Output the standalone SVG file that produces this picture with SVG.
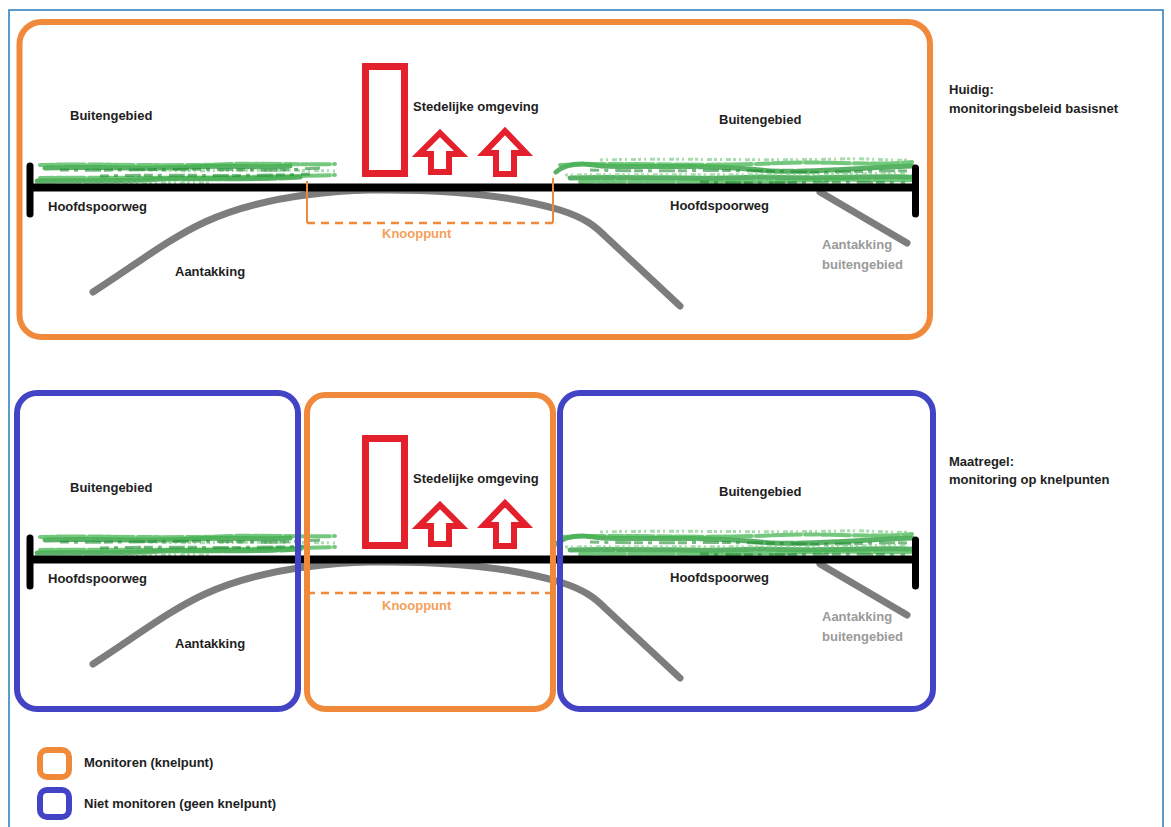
<svg xmlns="http://www.w3.org/2000/svg" width="1171" height="827" viewBox="0 0 1171 827">
<style>
text{font-family:"Liberation Sans",Arial,sans-serif;font-weight:bold;font-size:13px;fill:#1e1e1e}
.knoop{fill:#F4A05A}
.grey{fill:#9a9a9a}
.track{stroke:#000;stroke-width:8;fill:none}
.bar{stroke:#000;stroke-width:7;stroke-linecap:round}
.branch{stroke:#7d7d7d;stroke-width:7;fill:none;stroke-linecap:round;stroke-linejoin:round}
.red{stroke:#E3202B;stroke-width:7;fill:#fff}
.arrow{stroke:#E3202B;stroke-width:6;fill:#fff;stroke-linejoin:miter}
.dash{stroke:#F0893A;stroke-width:2.5;fill:none;stroke-dasharray:8 6}
.tick{stroke:#F0893A;stroke-width:2;fill:none}
.orange{fill:none;stroke:#F0893A;stroke-width:6}
.blue{fill:none;stroke:#4343C6;stroke-width:6}
.g1{stroke:#2f9e3f;stroke-width:5;fill:none;stroke-linecap:round;opacity:.8;stroke-dasharray:30 2 12 3 40 2 8 1}
.g2{stroke:#45b552;stroke-width:4;fill:none;stroke-linecap:round;opacity:.75;stroke-dasharray:14 3 6 2 20 4}
.g3{stroke:#7cc985;stroke-width:3;fill:none;opacity:.65;stroke-dasharray:3 3 2 4 5 2}
.g4{stroke:#1f8a30;stroke-width:3;fill:none;opacity:.6;stroke-dasharray:9 5 4 7 16 3}
</style>
<defs>
<g id="grassL">
<path class="g1" d="M45,168 C90,166 140,170 190,167 C230,165 260,168 290,166"/>
<path class="g2" d="M40,165 C100,163 160,167 230,164 C270,163 300,165 335,164"/>
<path class="g3" d="M150,170 C200,172 250,169 335,171"/>
<path class="g4" d="M60,170 C120,171 180,168 250,170 C280,171 300,169 320,168"/>
<path class="g1" d="M37,181 C80,180 120,182 160,179 C200,178 250,180 300,177"/>
<path class="g2" d="M40,178 C120,177 200,179 335,175"/>
<path class="g3" d="M35,184 C90,184 150,182 210,183"/>
<path class="g4" d="M100,176 C160,174 230,177 310,174"/>
</g>
<g id="grassR">
<path class="g1" d="M556,172 C565,164 580,162 600,166 C650,168 700,164 760,170 C800,174 850,168 912,166"/>
<path class="g2" d="M560,165 C620,162 700,167 780,163 C830,161 870,166 912,162"/>
<path class="g3" d="M600,160 C680,158 760,161 840,159 C870,158 890,161 910,160"/>
<path class="g4" d="M590,170 C660,172 720,169 800,172 C850,173 880,170 910,171"/>
<path class="g1" d="M570,178 C640,176 700,180 760,177 C820,179 860,176 912,177"/>
<path class="g2" d="M580,182 C660,181 740,183 820,180 C860,179 890,181 912,180"/>
<path class="g3" d="M565,175 C660,174 760,176 905,173"/>
<path class="g4" d="M700,182 C760,184 820,181 905,183"/>
</g>
</defs>

<path d="M9,827 V10 H1163 V827" fill="none" stroke="#2a7ab8" stroke-width="1.5"/>

<g id="top-monitoring-box">
<rect class="orange" x="19.5" y="22" width="910.5" height="315" rx="22"/>
</g>

<g id="top-scene">
<g id="top-grass"><use href="#grassL"/><use href="#grassR"/></g>
<g id="top-building"><rect class="red" x="365.5" y="66.5" width="39" height="107"/></g>
<g id="top-arrows">
<path class="arrow" d="M440,133 L461,154 L449,154 L449,172 L431,172 L431,154 L419,154 Z"/>
<path class="arrow" d="M505,131 L526,153 L514,153 L514,174 L496,174 L496,153 L484,153 Z"/>
</g>
<g id="top-connectors">
<path class="branch" d="M93,292 C135,265 170,238 205,222 C245,204 295,192 370,190 C440,189 510,195 560,210 C585,218 595,226 605,236 L680,306"/>
<path class="branch" d="M820,192 L907,243"/>
<line class="track" x1="30" y1="187.5" x2="915" y2="187.5"/>
<line class="bar" x1="30" y1="166" x2="30" y2="214"/>
<line class="bar" x1="915.5" y1="168" x2="915.5" y2="214"/>
<path class="tick" d="M307,181 V223 M553,178 V223"/>
<path class="dash" d="M307,223 H553"/>
</g>
<g id="top-labels">
<text x="70" y="120">Buitengebied</text>
<text x="413" y="111">Stedelijke omgeving</text>
<text x="719" y="124">Buitengebied</text>
<text x="48" y="211">Hoofdspoorweg</text>
<text x="670" y="210">Hoofdspoorweg</text>
<text class="knoop" x="382" y="238">Knooppunt</text>
<text x="175" y="276">Aantakking</text>
<text class="grey" x="822" y="249">Aantakking</text>
<text class="grey" x="822" y="269">buitengebied</text>
</g>
</g>

<g id="top-caption">
<text x="949" y="94">Huidig:</text>
<text x="949" y="113">monitoringsbeleid basisnet</text>
</g>

<g id="bottom-scene" transform="translate(0,372)">
<g id="bottom-grass"><use href="#grassL"/><use href="#grassR"/></g>
<g id="bottom-building"><rect class="red" x="365.5" y="66.5" width="39" height="107"/></g>
<g id="bottom-arrows">
<path class="arrow" d="M440,133 L461,154 L449,154 L449,172 L431,172 L431,154 L419,154 Z"/>
<path class="arrow" d="M505,131 L526,153 L514,153 L514,174 L496,174 L496,153 L484,153 Z"/>
</g>
<g id="bottom-connectors">
<path class="branch" d="M93,292 C135,265 170,238 205,222 C245,204 295,192 370,190 C440,189 510,195 560,210 C585,218 595,226 605,236 L680,306"/>
<path class="branch" d="M820,192 L907,243"/>
<line class="track" x1="30" y1="187.5" x2="915" y2="187.5"/>
<line class="bar" x1="30" y1="166" x2="30" y2="214"/>
<line class="bar" x1="915.5" y1="168" x2="915.5" y2="214"/>
<path class="dash" d="M307,221 H553"/>
</g>
<g id="bottom-labels">
<text x="70" y="120">Buitengebied</text>
<text x="413" y="111">Stedelijke omgeving</text>
<text x="719" y="124">Buitengebied</text>
<text x="48" y="211">Hoofdspoorweg</text>
<text x="670" y="210">Hoofdspoorweg</text>
<text class="knoop" x="382" y="238">Knooppunt</text>
<text x="175" y="276">Aantakking</text>
<text class="grey" x="822" y="249">Aantakking</text>
<text class="grey" x="822" y="269">buitengebied</text>
</g>
</g>

<g id="bottom-left-box"><rect class="blue" x="17" y="393" width="281" height="316" rx="20"/></g>
<g id="bottom-right-box"><rect class="blue" x="560" y="393" width="373" height="316" rx="20"/></g>
<g id="bottom-middle-box"><rect class="orange" x="307" y="395" width="246" height="314" rx="18"/></g>

<g id="bottom-caption">
<text x="949" y="466">Maatregel:</text>
<text x="949" y="484">monitoring op knelpunten</text>
</g>

<g id="legend-monitoren">
<rect x="40" y="750" width="29" height="27" rx="7" fill="#fff" stroke="#F0893A" stroke-width="6"/>
<text x="84" y="767">Monitoren (knelpunt)</text>
</g>
<g id="legend-niet-monitoren">
<rect x="40" y="790" width="29" height="27" rx="7" fill="#fff" stroke="#4343C6" stroke-width="6"/>
<text x="84" y="808">Niet monitoren (geen knelpunt)</text>
</g>
</svg>
